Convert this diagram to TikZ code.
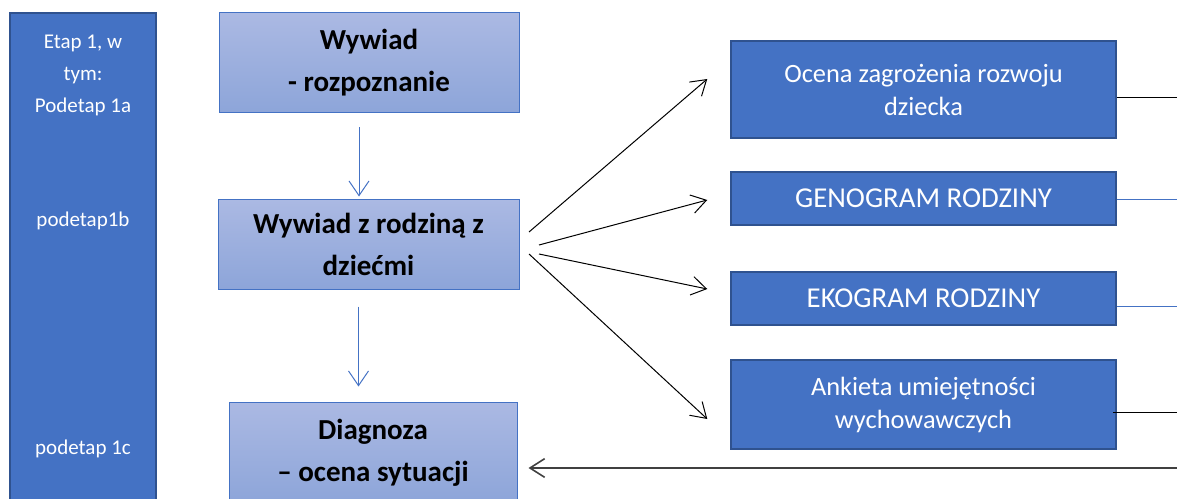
\documentclass[tikz,border=0pt]{standalone}
\usepackage{fontspec}
\setmainfont{Carlito}
\usetikzlibrary{arrows.meta}
\definecolor{boxBlue}{RGB}{68,114,196}
\definecolor{boxEdge}{RGB}{47,82,143}
\definecolor{stepTop}{RGB}{171,185,227}
\definecolor{stepBottom}{RGB}{141,165,217}
\definecolor{backLine}{RGB}{64,64,64}
\tikzstyle{diagram} = [x = .75pt, y = -.75pt]
\tikzstyle{stageColumn} = [draw=boxEdge, fill=boxBlue, line width=1.1pt, minimum width=109.5pt, minimum height=369pt]
\tikzstyle{stageText} = [text=white, align=center, font=\fontsize{15.75}{24}\selectfont]
\tikzstyle{stepBox} = [draw=boxBlue, line width=.75pt, top color=stepTop, bottom color=stepBottom, align=center, font=\bfseries\fontsize{21.75}{31.5}\selectfont]
\tikzstyle{toolBox} = [draw=boxEdge, fill=boxBlue, line width=1.1pt, text=white, align=center, minimum width=288.75pt, font=\fontsize{19.8}{24.75}\selectfont]
\tikzstyle{flowArrow} = [draw=boxBlue, line width=.75pt, -{Straight Barb[length=11pt, width=15pt]}]
\tikzstyle{fanArrow} = [draw=black, line width=.75pt, -{Straight Barb[length=11pt, width=14pt]}]
\tikzstyle{outLine} = [line width=.75pt]
\tikzstyle{returnArrow} = [draw=backLine, line width=1.2pt, -{Straight Barb[length=11pt, width=14pt]}]

\begin{document}
\begin{tikzpicture}[diagram]
  \useasboundingbox (0,0) rectangle (1177,499);

  % left column
  \node [stageColumn] (etap) at (83,259) {};
  \node [stageText] (etap1a) at (83,75.5) {Etap 1, w\\tym:\\Podetap 1a};
  \node [stageText] (etap1b) at (83,221) {podetap1b};
  \node [stageText] (etap1c) at (83,449) {podetap 1c};

  % main steps
  \node [stepBox, minimum width=225pt, minimum height=75pt] (wywiad) at (369,63) {Wywiad\\- rozpoznanie};
  \node [stepBox, minimum width=225.75pt, minimum height=67.5pt] (rodzina) at (368.5,244) {Wywiad z rodziną z\\dziećmi};
  \node [stepBox, minimum width=216pt, minimum height=75.75pt] (diagnoza) at (373,452.5) {Diagnoza\\– ocena sytuacji};

  \draw [flowArrow, shorten <=10.5pt, shorten >=1.5pt] ([xshift=-7.5pt]wywiad.south) -- ([xshift=-7.5pt]wywiad.south |- rodzina.north);
  \draw [flowArrow, shorten <=12.75pt, shorten >=11.25pt] ([xshift=-7.5pt]rodzina.south) -- ([xshift=-7.5pt]rodzina.south |- diagnoza.north);

  % tools
  \node [toolBox, minimum height=72.75pt] (ocena) at (923.5,89.5) {Ocena zagrożenia rozwoju\\dziecka};
  \node [toolBox, minimum height=39.75pt, font=\fontsize{21.6}{26}\selectfont] (genogram) at (923.5,198.5) {GENOGRAM RODZINY};
  \node [toolBox, minimum height=39.75pt, font=\fontsize{21.6}{26}\selectfont] (ekogram) at (923.5,298.5) {EKOGRAM RODZINY};
  \node [toolBox, minimum height=66.75pt] (ankieta) at (923.5,404.5) {Ankieta umiejętności\\wychowawczych};

  \coordinate (s1) at (529,232);
  \coordinate (s2) at (539,245);
  \coordinate (s3) at (539,254);
  \coordinate (s4) at (529,254);
  \coordinate (e1) at ([shift={(-23,-10.5)}]ocena.west);
  \coordinate (e2) at ([shift={(-23,1.5)}]genogram.west);
  \coordinate (e3) at ([shift={(-23,-9.5)}]ekogram.west);
  \coordinate (e4) at ([shift={(-23,14.5)}]ankieta.west);
  \draw [fanArrow] (s1) -- (e1);
  \draw [fanArrow] (s2) -- (e2);
  \draw [fanArrow] (s3) -- (e3);
  \draw [fanArrow] (s4) -- (e4);

  % lines out to the right
  \coordinate (o1) at (1177,98);
  \coordinate (o2) at (1177,199);
  \coordinate (o3) at (1177,306);
  \coordinate (o4) at (1177,412);
  \coordinate (back) at (1177,468);
  \draw [outLine] (ocena.east |- o1) -- (o1);
  \draw [outLine, boxBlue] (genogram.east |- o2) -- (o2);
  \draw [outLine, boxBlue] (ekogram.east |- o3) -- (o3);
  \draw [outLine] ([xshift=-3pt]ankieta.east |- o4) -- (o4);
  \draw [returnArrow, shorten >=8.25pt] (back) -- (diagnoza.east |- back);
\end{tikzpicture}
\end{document}
